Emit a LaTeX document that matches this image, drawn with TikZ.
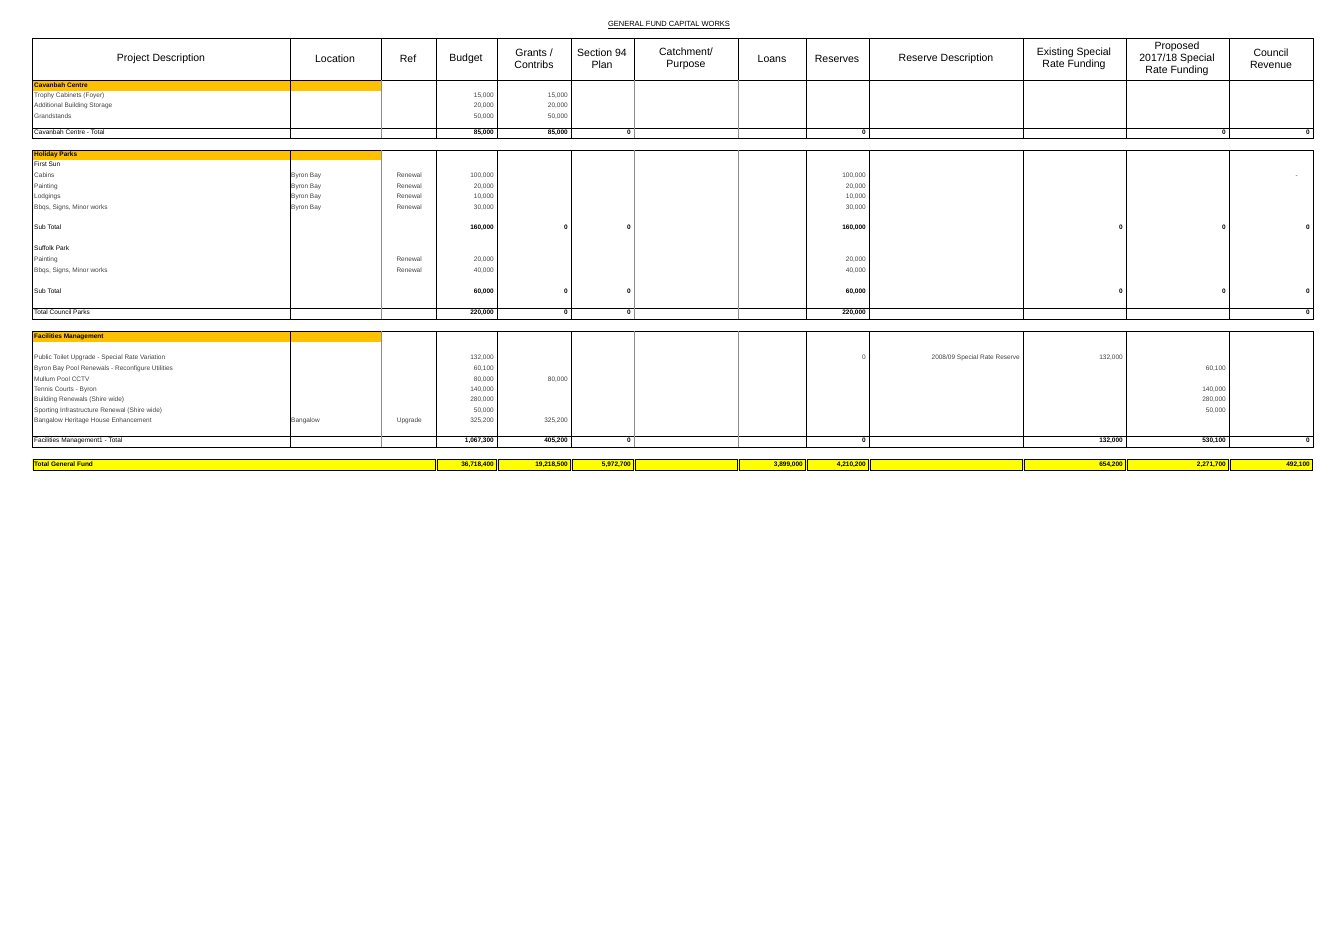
\documentclass[tikz,border=0pt]{standalone}
\usepackage{fontspec}
\setmainfont{Liberation Sans}
\definecolor{orng}{RGB}{255,192,0}
\definecolor{yel}{RGB}{255,255,0}
\begin{document}
\begin{tikzpicture}[x=1pt,y=-1pt,
 hd/.style={font=\fontsize{10.5}{12}\selectfont,align=center},
 base/.style={inner sep=1pt,text height=4.8pt,text depth=1.4pt},
 tx/.style={base,anchor=west,font=\fontsize{6.5}{7}\selectfont,text=black!75},
 bt/.style={base,anchor=west,font=\fontsize{6.5}{7}\selectfont\bfseries},
 nm/.style={base,anchor=east,font=\fontsize{6.5}{7}\selectfont,text=black!75},
 bn/.style={base,anchor=east,font=\fontsize{6.5}{7}\selectfont\bfseries},
 ln/.style={line width=0.6pt},
 gl/.style={line width=0.5pt,black!45}]
\useasboundingbox (0,0) rectangle (1340,947);
\node[font=\fontsize{7.5}{9}\selectfont] (title) at (669,25) {\underline{GENERAL FUND CAPITAL WORKS}};
% header
\draw[ln] (32,38) rectangle (1313,80);
\foreach \x in {290,381,436,497,571,634,738,806,869,1023,1126,1229} \draw[ln] (\x,38)--(\x,80);
\node[hd] at (161,59) {Project Description};
\node[hd] at (335,59) {Location};
\node[hd] at (408,59) {Ref};
\node[hd] at (466,59) {Budget};
\node[hd] at (534,59) {Grants /\\Contribs};
\node[hd] at (602,59) {Section 94\\Plan};
\node[hd] at (686,59) {Catchment/\\Purpose};
\node[hd] at (772,59) {Loans};
\node[hd] at (837,59) {Reserves};
\node[hd] at (946,59) {Reserve Description};
\node[hd] at (1074,59) {Existing Special\\Rate Funding};
\node[hd] at (1177,59) {Proposed\\2017/18 Special\\Rate Funding};
\node[hd] at (1271,59) {Council\\Revenue};
\newcommand{\blk}[3]{%
 \draw[ln] (32,#1) rectangle (1313,#3);
 \draw[ln] (32,#2)--(1313,#2);
 \foreach \x in {290,436,497,571,806,869,1023,1126,1229} \draw[ln] (\x,#1)--(\x,#3);
 \foreach \x in {381,634,738} \draw[gl] (\x,#1)--(\x,#3);}
% Cavanbah
\fill[orng] (33,81) rectangle (381,91);
\blk{80}{128}{138}
\node[bt] at (33,86) {Cavanbah Centre};
\node[tx] at (33,96) {Trophy Cabinets (Foyer)};
\node[tx] at (33,106) {Additional Building Storage};
\node[tx] at (33,117) {Grandstands};
\node[nm] at (495,96) {15,000};\node[nm] at (569,96) {15,000};
\node[nm] at (495,106) {20,000};\node[nm] at (569,106) {20,000};
\node[nm] at (495,117) {50,000};\node[nm] at (569,117) {50,000};
\node[tx,text=black] at (33,133) {Cavanbah Centre - Total};
\node[bn] at (495,133) {85,000};\node[bn] at (569,133) {85,000};\node[bn] at (632,133) {0};
\node[bn] at (867,133) {0};\node[bn] at (1227,133) {0};\node[bn] at (1311,133) {0};
% Holiday Parks
\fill[orng] (33,151) rectangle (381,160);
\blk{150}{308}{319}
\node[bt] at (33,155) {Holiday Parks};
\node[tx,text=black] at (33,165) {First Sun};
\foreach \y/\a/\b in {176/Cabins/{100,000}, 187/Painting/{20,000}, 197/Lodgings/{10,000}, 208/{Bbqs, Signs, Minor works}/{30,000}}{
 \node[tx] at (33,\y) {\a};\node[tx] at (290,\y) {Byron Bay};\node[nm] at (423,\y) {Renewal};
 \node[nm] at (495,\y) {\b};\node[nm] at (867,\y) {\b};}
\node[nm] at (1299,176) {-};
\node[tx,text=black] at (33,228) {Sub Total};
\node[bn] at (495,228) {160,000};\node[bn] at (569,228) {0};\node[bn] at (632,228) {0};
\node[bn] at (867,228) {160,000};\node[bn] at (1124,228) {0};\node[bn] at (1227,228) {0};\node[bn] at (1311,228) {0};
\node[tx,text=black] at (33,249) {Suffolk Park};
\foreach \y/\a/\b in {260/Painting/{20,000}, 271/{Bbqs, Signs, Minor works}/{40,000}}{
 \node[tx] at (33,\y) {\a};\node[nm] at (423,\y) {Renewal};
 \node[nm] at (495,\y) {\b};\node[nm] at (867,\y) {\b};}
\node[tx,text=black] at (33,292) {Sub Total};
\node[bn] at (495,292) {60,000};\node[bn] at (569,292) {0};\node[bn] at (632,292) {0};
\node[bn] at (867,292) {60,000};\node[bn] at (1124,292) {0};\node[bn] at (1227,292) {0};\node[bn] at (1311,292) {0};
\node[tx,text=black] at (33,313) {Total Council Parks};
\node[bn] at (495,313) {220,000};\node[bn] at (569,313) {0};\node[bn] at (632,313) {0};
\node[bn] at (867,313) {220,000};\node[bn] at (1311,313) {0};
% Facilities
\fill[orng] (33,332) rectangle (381,342);
\blk{331}{436}{447}
\node[bt] at (33,337) {Facilities Management};
\foreach \y/\a/\b in {358/{Public Toilet Upgrade - Special Rate Variation}/{132,000}, 369/{Byron Bay Pool Renewals - Reconfigure Utilities}/{60,100}, 380/{Mullum Pool CCTV}/{80,000}, 390/{Tennis Courts - Byron}/{140,000}, 400/{Building Renewals (Shire wide)}/{280,000}, 411/{Sporting Infrastructure Renewal (Shire wide)}/{50,000}, 421/{Bangalow Heritage House Enhancement}/{325,200}}{
 \node[tx] at (33,\y) {\a};\node[nm] at (495,\y) {\b};}
\node[tx] at (290,421) {Bangalow};\node[nm] at (423,421) {Upgrade};
\node[nm] at (569,380) {80,000};\node[nm] at (569,421) {325,200};
\node[nm] at (867,358) {0};\node[nm] at (1021,358) {2008/09 Special Rate Reserve};\node[nm] at (1124,358) {132,000};
\node[nm] at (1227,369) {60,100};\node[nm] at (1227,390) {140,000};\node[nm] at (1227,400) {280,000};\node[nm] at (1227,411) {50,000};
\node[tx,text=black] at (33,441) {Facilities Management1 - Total};
\node[bn] at (495,441) {1,067,300};\node[bn] at (569,441) {405,200};\node[bn] at (632,441) {0};
\node[bn] at (867,441) {0};\node[bn] at (1124,441) {132,000};\node[bn] at (1227,441) {530,100};\node[bn] at (1311,441) {0};
% Total General Fund
\fill[yel] (32,459) rectangle (1313,470);
\foreach \a/\b in {32/436,436/497,497/571,571/634,634/738,738/806,806/869,869/1023,1023/1126,1126/1229,1229/1313}
 \draw[ln] (\a+0.8,459) rectangle (\b-0.8,470);
\node[bt] at (33,465) {Total General Fund};
\foreach \x/\v in {495/{36,718,400},569/{19,218,500},632/{5,972,700},804/{3,899,000},867/{4,210,200},1124/{654,200},1227/{2,271,700},1311/{492,100}}
 \node[bn] at (\x,465) {\v};
\end{tikzpicture}
\end{document}
